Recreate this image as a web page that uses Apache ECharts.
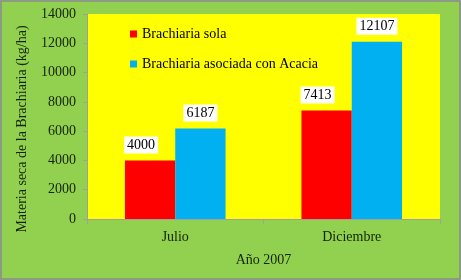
<!DOCTYPE html>
<html><head><meta charset="utf-8">
<script src="https://cdn.jsdelivr.net/npm/echarts@6/dist/echarts.min.js"></script>
<style>html,body{margin:0;padding:0;background:#92D050;}#c{width:461px;height:280px;box-sizing:border-box;border:2px solid #8c9a84;}</style>
</head><body><div id="c"></div>
<script>
const categories = ['Julio', 'Diciembre'];
const seriesNames = ['Brachiaria sola', 'Brachiaria asociada con Acacia'];
const sola = [4000, 7413];
const asociada = [6187, 12107];
const yTicks = [0, 2000, 4000, 6000, 8000, 10000, 12000, 14000];
const yTitle = 'Materia seca de la Brachiaria (kg/ha)';
const xTitle = 'Año 2007';

const chart = echarts.init(document.getElementById('c'));
const font = '"Liberation Serif", "Times New Roman", serif';
const txt = '#142408';
const lbl = {show:true, position:'top', distance:7, color:'#000', fontFamily:font, fontSize:14,
  backgroundColor:'#fff', padding:[2,3,1,3]};
chart.setOption({
  backgroundColor:'#92D050',
  animation:false,
  textStyle:{fontFamily:font},
  grid:{left:85, top:12, right:19, bottom:59, show:true, backgroundColor:'#FFFF00', borderWidth:0},
  legend:{orient:'vertical', left:123, top:20, itemGap:16, itemWidth:7, itemHeight:7,
    icon:'rect', textStyle:{fontFamily:font, fontSize:14, color:'#000'}, data:seriesNames},
  graphic:[{type:'text', x:20, y:127, rotation:Math.PI/2,
    style:{text:yTitle, fill:txt, font:'14px ' + font, textAlign:'center', textVerticalAlign:'middle'}}],
  xAxis:{type:'category', data:categories,
    axisLine:{lineStyle:{color:'#a0a0a0'}}, axisTick:{show:true, lineStyle:{color:'#a0a0a0'}},
    axisLabel:{color:txt, fontFamily:font, fontSize:14, margin:11},
    name:xTitle, nameLocation:'middle', nameGap:34,
    nameTextStyle:{color:txt, fontFamily:font, fontSize:14}},
  yAxis:{type:'value', min:0, max:14000, interval:2000,
    axisLine:{show:true, lineStyle:{color:'#a0a0a0'}}, axisTick:{show:true, length:4, lineStyle:{color:'#a0a0a0'}},
    splitLine:{show:false},
    axisLabel:{color:txt, fontFamily:font, fontSize:14, margin:11, formatter:v => String(v)}},
  series:[
    {name:seriesNames[0], type:'bar', data:sola, barWidth:'28.5%', barGap:'0%', barCategoryGap:'43%',
      itemStyle:{color:'#FF0000'}, label:Object.assign({}, lbl, {offset:[-9,0]})},
    {name:seriesNames[1], type:'bar', data:asociada, barWidth:'28.5%',
      itemStyle:{color:'#00B0F0'}, label:lbl}
  ]
});
</script></body></html>
